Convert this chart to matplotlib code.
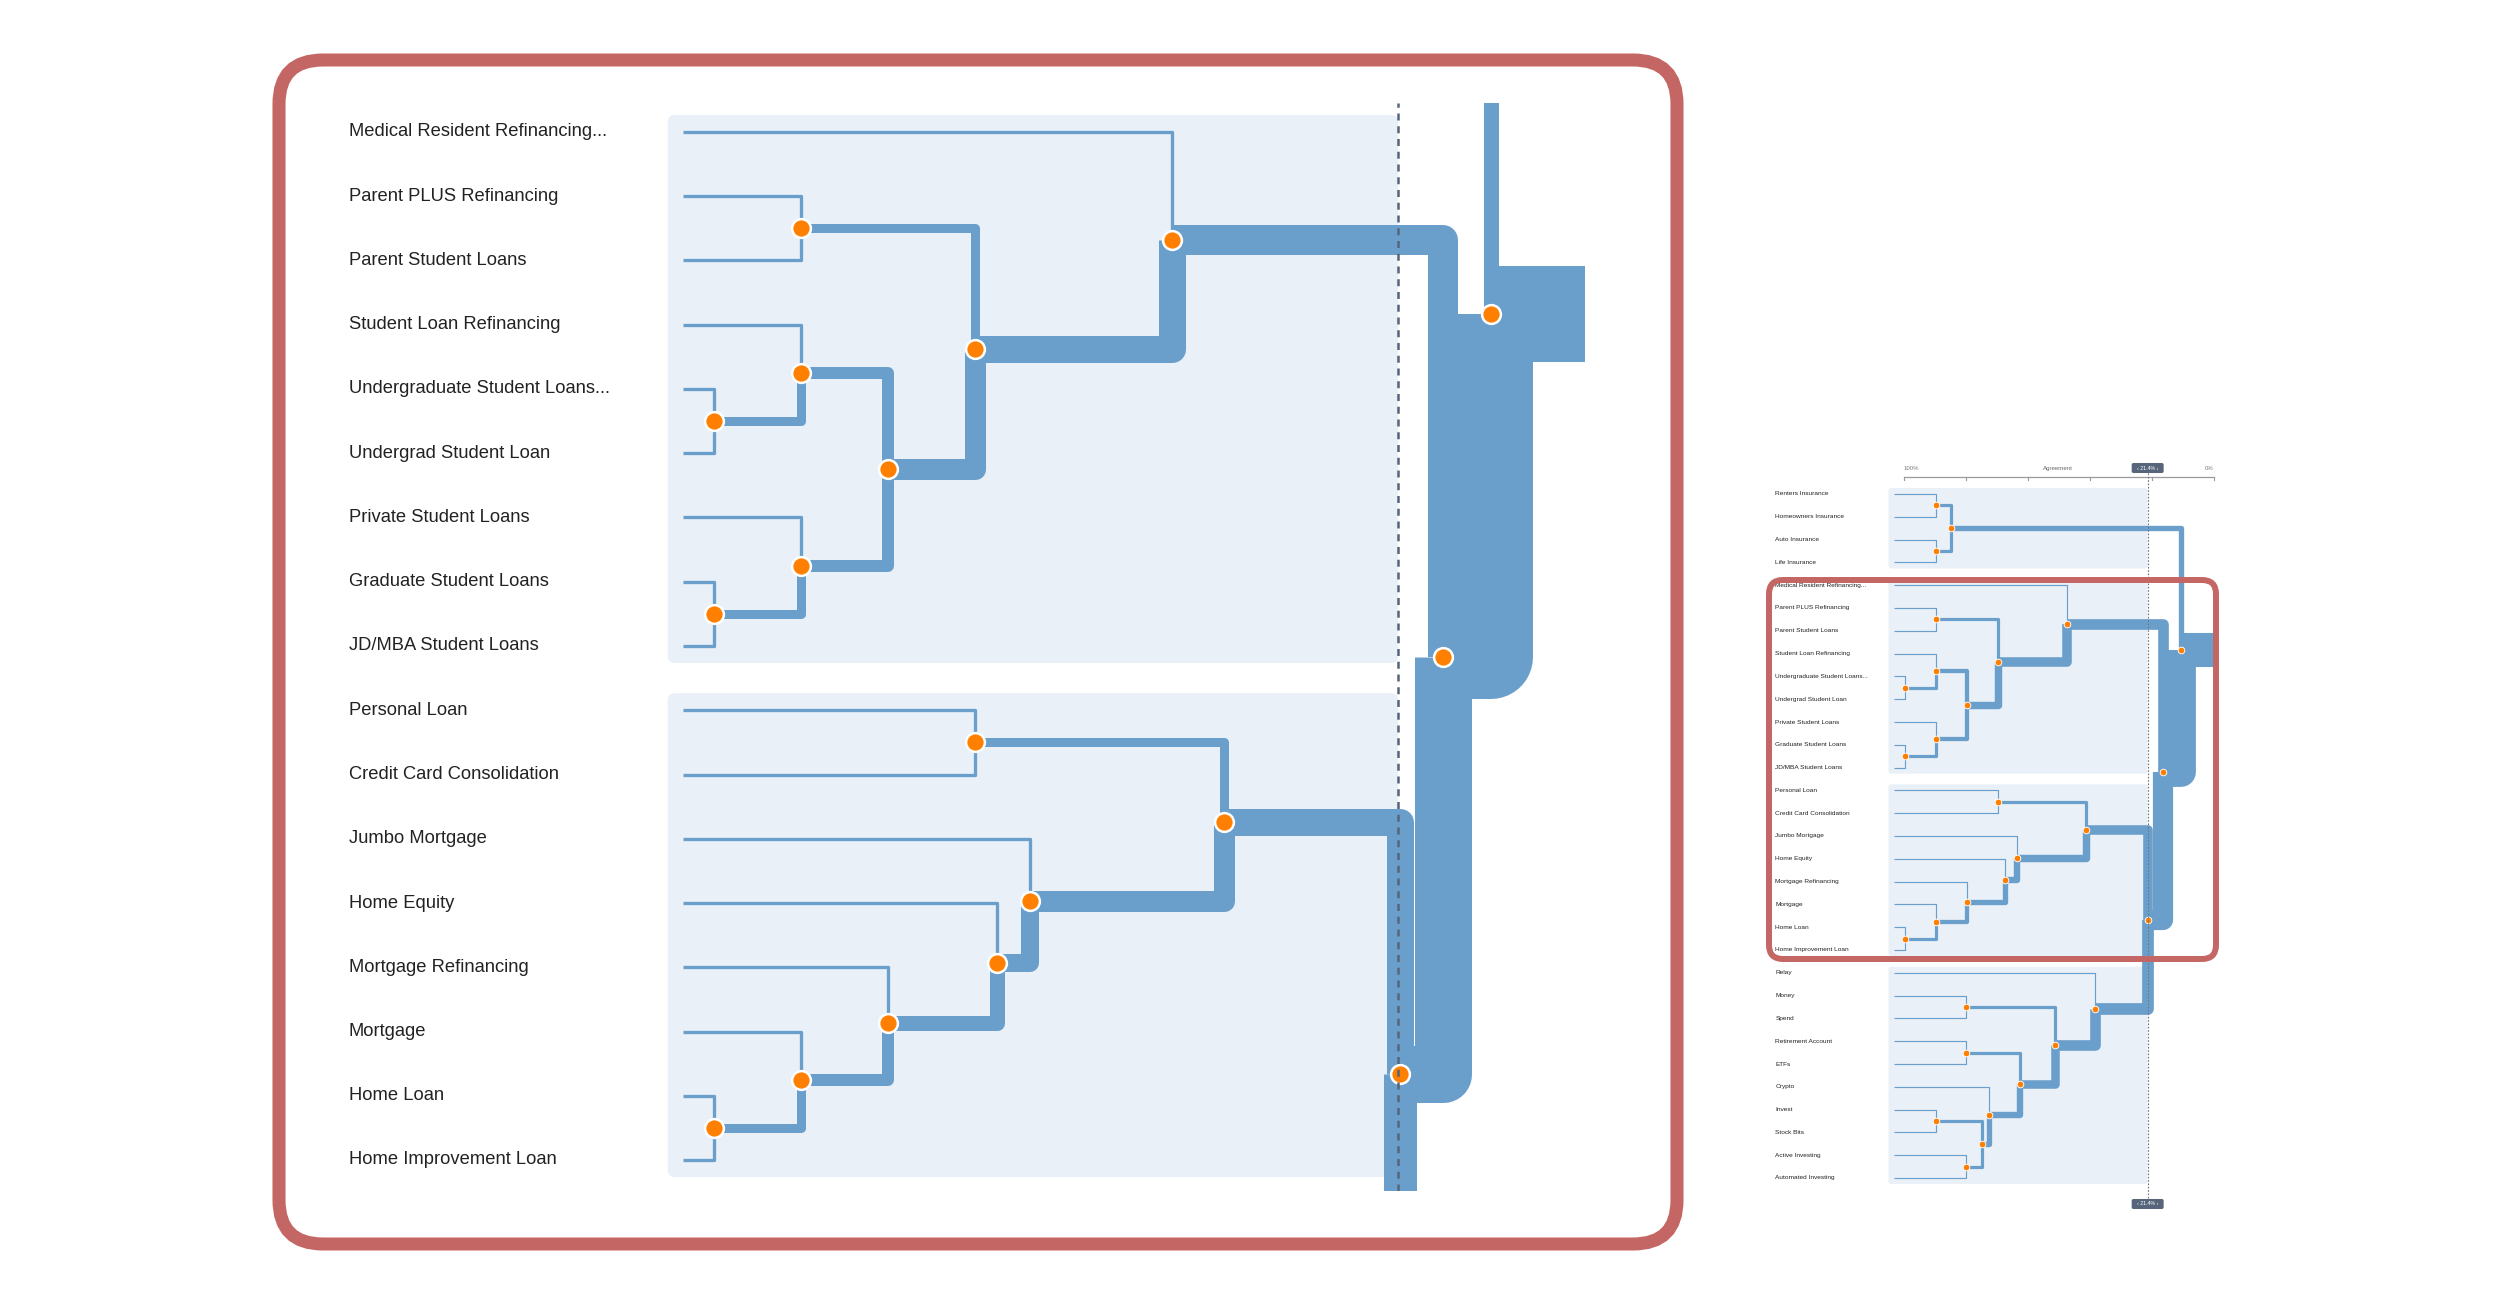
import matplotlib.pyplot as plt
from matplotlib.patches import FancyBboxPatch
from matplotlib.transforms import Affine2D

# leaf labels, top to bottom
labels = ["Renters Insurance", "Homeowners Insurance", "Auto Insurance", "Life Insurance",
          "Medical Resident Refinancing...", "Parent PLUS Refinancing", "Parent Student Loans",
          "Student Loan Refinancing", "Undergraduate Student Loans...", "Undergrad Student Loan",
          "Private Student Loans", "Graduate Student Loans", "JD/MBA Student Loans",
          "Personal Loan", "Credit Card Consolidation", "Jumbo Mortgage", "Home Equity",
          "Mortgage Refinancing", "Mortgage", "Home Loan", "Home Improvement Loan",
          "Relay", "Money", "Spend", "Retirement Account", "ETFs", "Crypto", "Invest",
          "Stock Bits", "Active Investing", "Automated Investing"]

# clusters cut at the threshold: first and last leaf row
groups = [(0, 3), (4, 12), (13, 20), (21, 30)]

# merges: (child a, child b, agreement %); ids >= len(labels) refer to earlier merges
merges = [(0, 1, 89.8), (2, 3, 89.8), (31, 32, 84.9),
          (5, 6, 89.7), (8, 9, 99.7), (7, 35, 89.7), (11, 12, 99.7), (10, 37, 89.7),
          (36, 38, 79.8), (34, 39, 69.8), (4, 40, 47.3),
          (13, 14, 69.8), (19, 20, 99.7), (18, 43, 89.7), (17, 44, 79.8), (16, 45, 67.3),
          (15, 46, 63.5), (42, 47, 41.3),
          (22, 23, 79.9), (24, 25, 79.9), (27, 28, 89.8), (29, 30, 79.9), (51, 52, 74.9),
          (26, 53, 72.5), (50, 54, 62.5), (49, 55, 51.2), (21, 56, 38.5),
          (48, 57, 21.2), (41, 58, 16.3), (33, 59, 10.8)]

cut = 21.4          # agreement threshold
axis_ticks = [100, 80, 60, 40, 20, 0]

BLUE = "#6B9FCB"
PANEL = "#E9F0F7"
ORANGE = "#FF8000"
RED = "#C46664"
SLATE = "#56657A"
FONT = ["Liberation Sans", "DejaVu Sans"]

W, H = 2500, 1305
fig = plt.figure(figsize=(W / 100, H / 100), dpi=100)

n = len(labels)
leaf_start = 103.3
xpos = {i: leaf_start for i in range(n)}
ypos = {i: float(i) for i in range(n)}
size = {i: 1 for i in range(n)}
for k, (a, b, agr) in enumerate(merges):
    c = n + k
    xpos[c] = agr
    ypos[c] = (ypos[a] + ypos[b]) / 2
    size[c] = size[a] + size[b]
root = n + len(merges) - 1


def width_px(c):
    return 3.3 if size[c] == 1 else 3 * size[c] + 3


def px_box(x0, y0, x1, y1, **kw):
    # rounded box in figure pixels (top-left origin)
    tr = Affine2D().scale(1 / W, -1 / H).translate(0, 1) + fig.transFigure
    p = FancyBboxPatch((x0, y0), x1 - x0, y1 - y0, transform=tr, **kw)
    fig.add_artist(p)


def make_view(box, x100, pxp, row0, yrow0, pxr):
    x0, y0, x1, y1 = box
    ax = fig.add_axes([x0 / W, 1 - y1 / H, (x1 - x0) / W, (y1 - y0) / H])
    ax.set_xlim(100 + (x100 - x0) / pxp, 100 - (x1 - x100) / pxp)
    ax.set_ylim(row0 + (y1 - yrow0) / pxr, row0 + (y0 - yrow0) / pxr)
    ax.axis("off")
    return ax, pxr / 64.25


def draw_tree(ax, s, clip):
    asp = 8.736 / 64.25
    for first, last in groups:
        ax.add_patch(FancyBboxPatch((cut, first - 0.265), 105 - cut, last - first + 0.53,
                                    boxstyle="round,pad=0,rounding_size=0.8",
                                    mutation_aspect=asp, fc=PANEL, ec="none", zorder=1))
    for k, (a, b, agr) in enumerate(merges):
        c = n + k
        for ch in (a, b):
            ax.plot([xpos[ch], agr, agr], [ypos[ch], ypos[ch], ypos[c]], color=BLUE,
                    lw=width_px(ch) * 0.72 * s, solid_joinstyle="round",
                    solid_capstyle="butt", zorder=2, clip_on=clip)
    ax.plot([xpos[root], 0], [ypos[root], ypos[root]], color=BLUE,
            lw=width_px(root) * 0.72 * s, solid_capstyle="butt", zorder=2, clip_on=clip)
    mx = [xpos[n + k] for k in range(len(merges))]
    my = [ypos[n + k] for k in range(len(merges))]
    ax.plot(mx, my, "o", ms=13.5 * s, mfc=ORANGE, mec="white", mew=1.8 * s,
            zorder=4, clip_on=clip)
    lo, hi = sorted(ax.get_ylim())
    for i, lab in enumerate(labels):
        if lo < i < hi:
            ax.text(141.5, i, lab, fontsize=13.2 * s, family=FONT, color="#222222",
                    va="center", ha="left")


# main zoomed view
px_box(279, 60, 1677, 1244, boxstyle="round,pad=0,rounding_size=44",
       fc="white", ec=RED, lw=9.4, zorder=0)
ax1, s1 = make_view((290, 103, 1587, 1191), 711.4, 8.736, 4, 132, 64.25)
draw_tree(ax1, s1, True)
ax1.axvline(cut, color=SLATE, lw=1.8, dashes=(2.8, 2.3), zorder=5)

# overview
ax2, s2 = make_view((1760, 455, 2230, 1215), 1904, 3.1, 0, 494, 22.8)
draw_tree(ax2, s2, False)
ya = -0.746
ax2.plot([axis_ticks[0], axis_ticks[-1]], [ya, ya], color="#9A9A9A", lw=0.9)
for t in axis_ticks:
    ax2.plot([t, t], [ya, ya + 0.14], color="#9A9A9A", lw=0.8)
ax2.text(100, -1.14, "100%", fontsize=4.3, family=FONT, color="#777777", ha="left", va="center")
ax2.text(0, -1.14, "0%", fontsize=4.3, family=FONT, color="#777777", ha="right", va="center")
ax2.text(50.3, -1.14, "Agreement", fontsize=4.4, family=FONT, color="#666666", ha="center", va="center")
ax2.plot([cut, cut], [-0.93, 30.9], color="#6B7785", lw=0.8, dashes=(1.5, 1.5), zorder=5)
for yb in (-1.14, 31.14):
    ax2.add_patch(FancyBboxPatch((cut - 5.16, yb - 0.22), 10.32, 0.44,
                                 boxstyle="round,pad=0,rounding_size=0.6",
                                 mutation_aspect=8.736 / 64.25, fc=SLATE, ec="none", zorder=6))
    ax2.text(cut, yb, "\u2039 21.4% \u203a", fontsize=3.8, family=FONT, color="white",
             ha="center", va="center", zorder=7)

px_box(1769, 580, 2216, 959, boxstyle="round,pad=0,rounding_size=14",
       fc="none", ec=RED, lw=4.3, zorder=3)

fig.savefig("out.png", dpi=100)
